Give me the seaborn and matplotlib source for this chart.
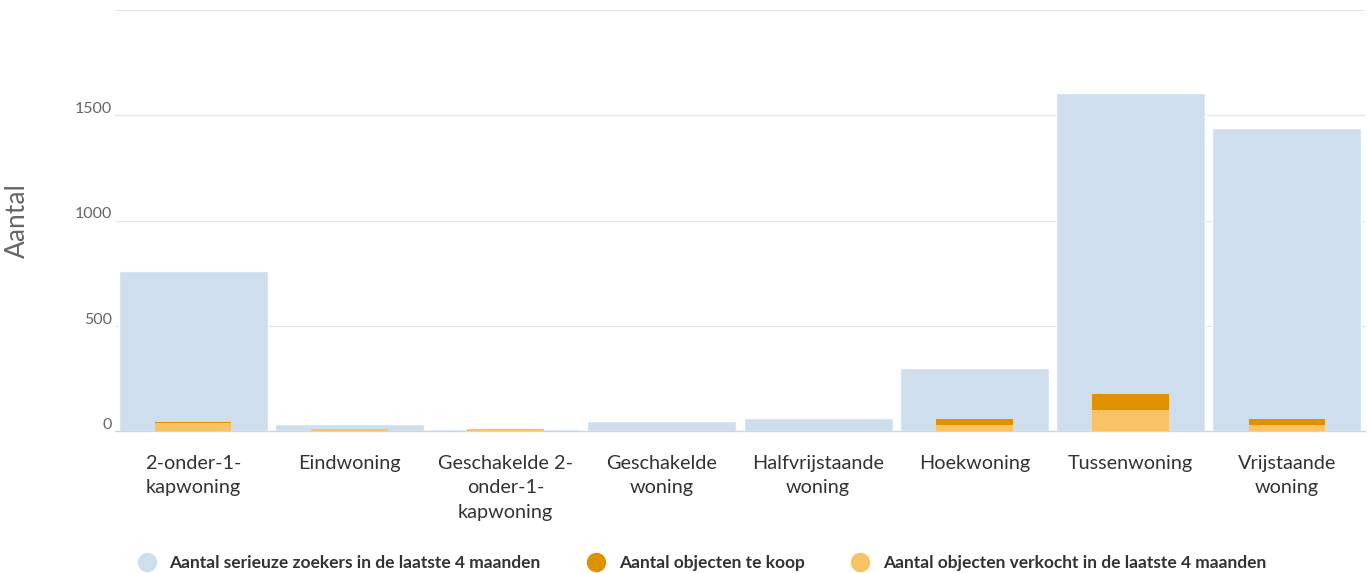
import matplotlib
matplotlib.use("Agg")
import matplotlib.pyplot as plt
import matplotlib.transforms as mtransforms
from matplotlib.lines import Line2D
import pandas as pd
import seaborn as sns

categories = ["2-onder-1-\nkapwoning", "Eindwoning", "Geschakelde 2-\nonder-1-\nkapwoning",
              "Geschakelde\nwoning", "Halfvrijstaande\nwoning", "Hoekwoning",
              "Tussenwoning", "Vrijstaande\nwoning"]
zoekers = [762, 32, 8, 48, 62, 300, 1605, 1438]
te_koop = [43, 0, 0, 0, 0, 59, 175, 59]
verkocht = [38, 10, 10, 0, 0, 30, 102, 30]

y_ticks = [0, 500, 1000, 1500, 2000]
y_tick_labels = ["0", "500", "1000", "1500", ""]

blue = "#cfdeec"
dark_orange = "#e09100"
light_orange = "#f7c365"

sns.set_theme(style="white")
plt.rcParams["font.family"] = ["Lato", "DejaVu Sans"]

df = pd.DataFrame({"categorie": categories, "zoekers": zoekers,
                   "te_koop": te_koop, "verkocht": verkocht})

fig = plt.figure(figsize=(13.68, 5.73), dpi=100)
ax = fig.add_axes([115 / 1368, 1 - 431 / 573, 1250 / 1368, 421 / 573])

ax.grid(axis="y", color="#e6e6e6", linewidth=1)
ax.set_axisbelow(True)

sns.barplot(data=df, x="categorie", y="zoekers", color=blue, width=0.955,
            saturation=1, edgecolor="white", linewidth=1, ax=ax, zorder=2)
sns.barplot(data=df, x="categorie", y="te_koop", color=dark_orange, width=0.49,
            saturation=1, linewidth=0, ax=ax, zorder=3)
sns.barplot(data=df, x="categorie", y="verkocht", color=light_orange, width=0.49,
            saturation=1, linewidth=0, ax=ax, zorder=4)

ax.set_xlim(-0.5, len(categories) - 0.5)
ax.set_ylim(0, 2000)
ax.set_yticks(y_ticks)
ax.set_yticklabels(y_tick_labels)
ax.set_xlabel("")
ax.set_ylabel("Aantal", fontsize=19, color="#666666")
ax.yaxis.set_label_coords(-0.068, 0.5)

for side in ["top", "right", "left"]:
    ax.spines[side].set_visible(False)
ax.spines["bottom"].set_color("#ccd6eb")
ax.spines["bottom"].set_linewidth(1.0)
ax.spines["bottom"].set_zorder(2.5)

ax.tick_params(axis="y", length=0, pad=2, labelsize=11.5, labelcolor="#666666")
ax.tick_params(axis="x", length=10, width=1, color="#ccd6eb", pad=7,
               labelsize=14.3, labelcolor="#333333")
for lab in ax.get_xticklabels():
    lab.set_linespacing(1.55)

shift = mtransforms.ScaledTranslation(0, 5.5 / 72, fig.dpi_scale_trans)
for lab in ax.get_yticklabels():
    lab.set_transform(lab.get_transform() + shift)

handles = [Line2D([], [], marker="o", linestyle="", markersize=13, color=c)
           for c in [blue, dark_orange, light_orange]]
names = ["Aantal serieuze zoekers in de laatste 4 maanden", "Aantal objecten te koop",
         "Aantal objecten verkocht in de laatste 4 maanden"]
leg = fig.legend(handles, names, loc="center", bbox_to_anchor=(0.51, 1 - 563 / 573),
                 ncol=3, frameon=False, handletextpad=0.3, columnspacing=2.2,
                 prop={"size": 12.5, "weight": "bold"})
for t in leg.get_texts():
    t.set_color("#333333")

fig.savefig("out.png", dpi=100)
